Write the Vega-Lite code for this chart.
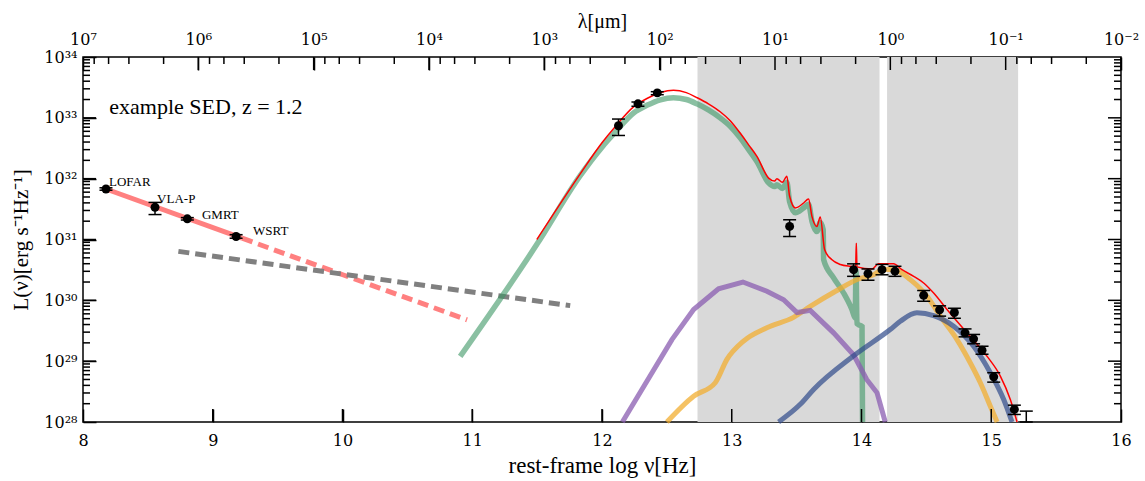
{
  "$schema": "https://vega.github.io/schema/vega-lite/v6.json",
  "width": 1038,
  "height": 365,
  "autosize": {"type": "none"},
  "padding": {"left": 83, "top": 57, "right": 24, "bottom": 59},
  "background": "white",
  "config": {
    "view": {"stroke": "black", "strokeWidth": 1.5},
    "font": "Liberation Serif",
    "axis": {
      "domain": false,
      "grid": false,
      "labelFont": "DejaVu Serif",
      "labelFontSize": 16,
      "labelColor": "black",
      "tickColor": "black",
      "tickWidth": 1.5,
      "titleFont": "Liberation Serif",
      "titleFontSize": 21,
      "titleFontWeight": "normal",
      "titleColor": "black",
      "labelOverlap": false,
      "labelFlush": false,
      "labelBound": false
    }
  },
  "datasets": {
    "bands": [{"a": 12.736, "b": 14.139}, {"a": 14.197, "b": 15.207}],
    "points": [
      {"nu": 8.177, "L": 6.76e31, "lo": 6.46e31, "hi": 7.08e31},
      {"nu": 8.555, "L": 3.39e31, "lo": 2.57e31, "hi": 4.07e31},
      {"nu": 8.804, "L": 2.19e31, "lo": 2.09e31, "hi": 2.29e31},
      {"nu": 9.18, "L": 1.12e31, "lo": 1.05e31, "hi": 1.2e31},
      {"nu": 12.127, "L": 7.41e32, "lo": 5.13e32, "hi": 9.55e32},
      {"nu": 12.277, "L": 1.7e33, "lo": 1.55e33, "hi": 1.82e33},
      {"nu": 12.426, "L": 2.57e33, "lo": 2.4e33, "hi": 2.69e33},
      {"nu": 13.446, "L": 1.64e31, "lo": 1.12e31, "hi": 2.11e31},
      {"nu": 13.939, "L": 3.19e30, "lo": 2.48e30, "hi": 3.98e30},
      {"nu": 14.05, "L": 2.75e30, "lo": 2.14e30, "hi": 3.28e30},
      {"nu": 14.158, "L": 3.19e30, "lo": 2.63e30, "hi": 3.89e30},
      {"nu": 14.258, "L": 3.02e30, "lo": 2.48e30, "hi": 3.63e30},
      {"nu": 14.479, "L": 1.21e30, "lo": 9.66e29, "hi": 1.45e30},
      {"nu": 14.602, "L": 6.97e29, "lo": 5.5e29, "hi": 8.13e29},
      {"nu": 14.716, "L": 6.31e29, "lo": 5.07e29, "hi": 7.41e29},
      {"nu": 14.798, "L": 2.92e29, "lo": 2.51e29, "hi": 3.39e29},
      {"nu": 14.864, "L": 2.33e29, "lo": 1.93e29, "hi": 2.75e29},
      {"nu": 14.929, "L": 1.51e29, "lo": 1.3e29, "hi": 1.76e29},
      {"nu": 15.019, "L": 5.53e28, "lo": 4.52e28, "hi": 6.46e28},
      {"nu": 15.178, "L": 1.61e28, "lo": 1.33e28, "hi": 1.89e28},
      {"nu": 15.27, "L": null, "lo": 1.0e28, "hi": 1.51e28}
    ],
    "curves": [
      {"s": "radio", "nu": 8.177, "L": 6.76e31},
      {"s": "radio", "nu": 9.226, "L": 1.05e31},
      {"s": "radioext", "nu": 9.226, "L": 1.05e31},
      {"s": "radioext", "nu": 10.96, "L": 4.79e29},
      {"s": "agn", "nu": 8.735, "L": 6.38e30},
      {"s": "agn", "nu": 11.755, "L": 8.18e29},
      {"s": "dust", "nu": 10.907, "L": 1.2e29},
      {"s": "dust", "nu": 11.498, "L": 8.32e30},
      {"s": "dust", "nu": 11.832, "L": 1.12e32},
      {"s": "dust", "nu": 12.0, "L": 3.3e32},
      {"s": "dust", "nu": 12.1, "L": 5.75e32},
      {"s": "dust", "nu": 12.243, "L": 1.2e33},
      {"s": "dust", "nu": 12.35, "L": 1.62e33},
      {"s": "dust", "nu": 12.45, "L": 1.98e33},
      {"s": "dust", "nu": 12.55, "L": 2.14e33},
      {"s": "dust", "nu": 12.65, "L": 2.0e33},
      {"s": "dust", "nu": 12.731, "L": 1.7e33},
      {"s": "dust", "nu": 12.82, "L": 1.35e33},
      {"s": "dust", "nu": 12.911, "L": 1.0e33},
      {"s": "dust", "nu": 12.99, "L": 7.2e32},
      {"s": "dust", "nu": 13.065, "L": 4.7e32},
      {"s": "dust", "nu": 13.13, "L": 3.0e32},
      {"s": "dust", "nu": 13.194, "L": 1.91e32},
      {"s": "dust", "nu": 13.284, "L": 8.51e31},
      {"s": "dust", "nu": 13.33, "L": 7.41e31},
      {"s": "dust", "nu": 13.348, "L": 7.94e31},
      {"s": "dust", "nu": 13.39, "L": 6.92e31},
      {"s": "dust", "nu": 13.425, "L": 8.71e31},
      {"s": "dust", "nu": 13.446, "L": 4.17e31},
      {"s": "dust", "nu": 13.49, "L": 2.75e31},
      {"s": "dust", "nu": 13.554, "L": 3.31e31},
      {"s": "dust", "nu": 13.592, "L": 3.8e31},
      {"s": "dust", "nu": 13.618, "L": 2.0e31},
      {"s": "dust", "nu": 13.656, "L": 1.35e31},
      {"s": "dust", "nu": 13.682, "L": 1.91e31},
      {"s": "dust", "nu": 13.705, "L": 1.45e31},
      {"s": "dust", "nu": 13.708, "L": 4.68e30},
      {"s": "dust", "nu": 13.785, "L": 2.34e30},
      {"s": "dust", "nu": 13.862, "L": 1.32e30},
      {"s": "dust", "nu": 13.926, "L": 7.08e29},
      {"s": "dust", "nu": 13.951, "L": 5.13e29},
      {"s": "dust", "nu": 13.958, "L": 3.16e30},
      {"s": "dust", "nu": 13.965, "L": 4.17e29},
      {"s": "dust", "nu": 13.977, "L": 3.98e29},
      {"s": "dust", "nu": 14.004, "L": 3.72e29},
      {"s": "dust", "nu": 14.008, "L": 1.0e28},
      {"s": "purple", "nu": 12.157, "L": 1.0e28},
      {"s": "purple", "nu": 12.539, "L": 2.26e29},
      {"s": "purple", "nu": 12.706, "L": 7.08e29},
      {"s": "purple", "nu": 12.898, "L": 1.55e30},
      {"s": "purple", "nu": 13.086, "L": 2.0e30},
      {"s": "purple", "nu": 13.271, "L": 1.41e30},
      {"s": "purple", "nu": 13.4, "L": 1.02e30},
      {"s": "purple", "nu": 13.503, "L": 6.31e29},
      {"s": "purple", "nu": 13.605, "L": 6.84e29},
      {"s": "purple", "nu": 13.785, "L": 2.92e29},
      {"s": "purple", "nu": 13.94, "L": 1.26e29},
      {"s": "purple", "nu": 14.04, "L": 5.01e28},
      {"s": "purple", "nu": 14.12, "L": 3.02e28},
      {"s": "purple", "nu": 14.183, "L": 1.0e28},
      {"s": "orange", "nu": 12.5, "L": 1.0e28},
      {"s": "orange", "nu": 12.706, "L": 2.66e28},
      {"s": "orange", "nu": 12.873, "L": 4.42e28},
      {"s": "orange", "nu": 12.963, "L": 1.07e29},
      {"s": "orange", "nu": 13.091, "L": 2.14e29},
      {"s": "orange", "nu": 13.271, "L": 3.55e29},
      {"s": "orange", "nu": 13.476, "L": 5.25e29},
      {"s": "orange", "nu": 13.605, "L": 7.94e29},
      {"s": "orange", "nu": 13.8, "L": 1.41e30},
      {"s": "orange", "nu": 13.977, "L": 2.24e30},
      {"s": "orange", "nu": 14.093, "L": 2.63e30},
      {"s": "orange", "nu": 14.17, "L": 3.24e30},
      {"s": "orange", "nu": 14.26, "L": 3.16e30},
      {"s": "orange", "nu": 14.376, "L": 2.19e30},
      {"s": "orange", "nu": 14.505, "L": 1.17e30},
      {"s": "orange", "nu": 14.607, "L": 5.5e29},
      {"s": "orange", "nu": 14.736, "L": 2.26e29},
      {"s": "orange", "nu": 14.839, "L": 9.33e28},
      {"s": "orange", "nu": 14.916, "L": 4.42e28},
      {"s": "orange", "nu": 14.993, "L": 1.82e28},
      {"s": "orange", "nu": 15.045, "L": 1.0e28},
      {"s": "blue", "nu": 13.361, "L": 1.0e28},
      {"s": "blue", "nu": 13.528, "L": 1.95e28},
      {"s": "blue", "nu": 13.631, "L": 3.43e28},
      {"s": "blue", "nu": 13.94, "L": 1.23e29},
      {"s": "blue", "nu": 14.221, "L": 3.31e29},
      {"s": "blue", "nu": 14.299, "L": 4.52e29},
      {"s": "blue", "nu": 14.427, "L": 6.24e29},
      {"s": "blue", "nu": 14.556, "L": 5.62e29},
      {"s": "blue", "nu": 14.71, "L": 3.76e29},
      {"s": "blue", "nu": 14.864, "L": 1.76e29},
      {"s": "blue", "nu": 14.993, "L": 6.46e28},
      {"s": "blue", "nu": 15.096, "L": 2.34e28},
      {"s": "blue", "nu": 15.16, "L": 1.0e28},
      {"s": "total", "nu": 11.498, "L": 1.0e31},
      {"s": "total", "nu": 11.832, "L": 1.2e32},
      {"s": "total", "nu": 12.0, "L": 3.9e32},
      {"s": "total", "nu": 12.1, "L": 7.08e32},
      {"s": "total", "nu": 12.243, "L": 1.51e33},
      {"s": "total", "nu": 12.35, "L": 2.1e33},
      {"s": "total", "nu": 12.45, "L": 2.6e33},
      {"s": "total", "nu": 12.551, "L": 2.85e33},
      {"s": "total", "nu": 12.65, "L": 2.6e33},
      {"s": "total", "nu": 12.731, "L": 2.15e33},
      {"s": "total", "nu": 12.82, "L": 1.7e33},
      {"s": "total", "nu": 12.911, "L": 1.26e33},
      {"s": "total", "nu": 12.99, "L": 8.9e32},
      {"s": "total", "nu": 13.065, "L": 5.62e32},
      {"s": "total", "nu": 13.13, "L": 3.6e32},
      {"s": "total", "nu": 13.194, "L": 2.32e32},
      {"s": "total", "nu": 13.284, "L": 1.02e32},
      {"s": "total", "nu": 13.33, "L": 9.12e31},
      {"s": "total", "nu": 13.348, "L": 1.0e32},
      {"s": "total", "nu": 13.39, "L": 8.71e31},
      {"s": "total", "nu": 13.425, "L": 1.1e32},
      {"s": "total", "nu": 13.446, "L": 5.13e31},
      {"s": "total", "nu": 13.49, "L": 3.31e31},
      {"s": "total", "nu": 13.554, "L": 3.98e31},
      {"s": "total", "nu": 13.592, "L": 4.62e31},
      {"s": "total", "nu": 13.618, "L": 2.4e31},
      {"s": "total", "nu": 13.656, "L": 1.64e31},
      {"s": "total", "nu": 13.682, "L": 2.34e31},
      {"s": "total", "nu": 13.716, "L": 6.76e30},
      {"s": "total", "nu": 13.77, "L": 4.68e30},
      {"s": "total", "nu": 13.837, "L": 3.89e30},
      {"s": "total", "nu": 13.914, "L": 3.63e30},
      {"s": "total", "nu": 13.955, "L": 3.55e30},
      {"s": "total", "nu": 13.96, "L": 8.71e30},
      {"s": "total", "nu": 13.965, "L": 3.55e30},
      {"s": "total", "nu": 14.08, "L": 3.27e30},
      {"s": "total", "nu": 14.131, "L": 3.98e30},
      {"s": "total", "nu": 14.247, "L": 3.98e30},
      {"s": "total", "nu": 14.312, "L": 3.19e30},
      {"s": "total", "nu": 14.402, "L": 2.48e30},
      {"s": "total", "nu": 14.479, "L": 1.93e30},
      {"s": "total", "nu": 14.556, "L": 1.32e30},
      {"s": "total", "nu": 14.659, "L": 7.08e29},
      {"s": "total", "nu": 14.813, "L": 2.92e29},
      {"s": "total", "nu": 14.968, "L": 1.2e29},
      {"s": "total", "nu": 15.07, "L": 5.69e28},
      {"s": "total", "nu": 15.147, "L": 2.34e28},
      {"s": "total", "nu": 15.199, "L": 1.0e28}
    ],
    "radiolabels": [
      {"nu": 8.2, "L": 8.91e31, "t": "LOFAR"},
      {"nu": 8.571, "L": 4.68e31, "t": "VLA-P"},
      {"nu": 8.917, "L": 2.57e31, "t": "GMRT"},
      {"nu": 9.311, "L": 1.38e31, "t": "WSRT"}
    ],
    "note": [{"nu": 8.203, "L": 1.49e33, "t": "example SED, z = 1.2"}],
    "nuaxis": [{"nu": 8, "L": 1e30}, {"nu": 16, "L": 1e30}],
    "xmajor": [{"nu": 9}, {"nu": 10}, {"nu": 11}, {"nu": 12}, {"nu": 13}, {"nu": 14}, {"nu": 15}],
    "ymajor": [{"L": 1e29}, {"L": 1e30}, {"L": 1e31}, {"L": 1e32}, {"L": 1e33}],
    "yminor": [
      {"L": 2e28}, {"L": 3e28}, {"L": 4e28}, {"L": 5e28}, {"L": 6e28}, {"L": 7e28}, {"L": 8e28}, {"L": 9e28},
      {"L": 2e29}, {"L": 3e29}, {"L": 4e29}, {"L": 5e29}, {"L": 6e29}, {"L": 7e29}, {"L": 8e29}, {"L": 9e29},
      {"L": 2e30}, {"L": 3e30}, {"L": 4e30}, {"L": 5e30}, {"L": 6e30}, {"L": 7e30}, {"L": 8e30}, {"L": 9e30},
      {"L": 2e31}, {"L": 3e31}, {"L": 4e31}, {"L": 5e31}, {"L": 6e31}, {"L": 7e31}, {"L": 8e31}, {"L": 9e31},
      {"L": 2e32}, {"L": 3e32}, {"L": 4e32}, {"L": 5e32}, {"L": 6e32}, {"L": 7e32}, {"L": 8e32}, {"L": 9e32},
      {"L": 2e33}, {"L": 3e33}, {"L": 4e33}, {"L": 5e33}, {"L": 6e33}, {"L": 7e33}, {"L": 8e33}, {"L": 9e33}
    ],
    "lamticks": [
      {"lam": 1e7, "kind": "major"}, {"lam": 8e6, "kind": "minor"}, {"lam": 6e6, "kind": "minor"}, {"lam": 4e6, "kind": "minor"}, {"lam": 2e6, "kind": "minor"},
      {"lam": 1e6, "kind": "major"}, {"lam": 8e5, "kind": "minor"}, {"lam": 6e5, "kind": "minor"}, {"lam": 4e5, "kind": "minor"}, {"lam": 2e5, "kind": "minor"},
      {"lam": 1e5, "kind": "major"}, {"lam": 8e4, "kind": "minor"}, {"lam": 6e4, "kind": "minor"}, {"lam": 4e4, "kind": "minor"}, {"lam": 2e4, "kind": "minor"},
      {"lam": 1e4, "kind": "major"}, {"lam": 8000, "kind": "minor"}, {"lam": 6000, "kind": "minor"}, {"lam": 4000, "kind": "minor"}, {"lam": 2000, "kind": "minor"},
      {"lam": 1000, "kind": "major"}, {"lam": 800, "kind": "minor"}, {"lam": 600, "kind": "minor"}, {"lam": 400, "kind": "minor"}, {"lam": 200, "kind": "minor"},
      {"lam": 100, "kind": "major"}, {"lam": 80, "kind": "minor"}, {"lam": 60, "kind": "minor"}, {"lam": 40, "kind": "minor"}, {"lam": 20, "kind": "minor"},
      {"lam": 10, "kind": "major"}, {"lam": 8, "kind": "minor"}, {"lam": 6, "kind": "minor"}, {"lam": 4, "kind": "minor"}, {"lam": 2, "kind": "minor"},
      {"lam": 1, "kind": "major"}, {"lam": 0.8, "kind": "minor"}, {"lam": 0.6, "kind": "minor"}, {"lam": 0.4, "kind": "minor"}, {"lam": 0.2, "kind": "minor"},
      {"lam": 0.1, "kind": "major"}, {"lam": 0.08, "kind": "minor"}, {"lam": 0.06, "kind": "minor"}, {"lam": 0.04, "kind": "minor"}, {"lam": 0.02, "kind": "minor"},
      {"lam": 0.01, "kind": "major"}
    ]
  },
  "layer": [
    {
      "layer": [
        {
          "data": {"name": "bands"},
          "mark": {"type": "rect", "color": "#d9d9d9"},
          "encoding": {
            "x": {"field": "a", "type": "quantitative", "scale": {"domain": [8, 16], "nice": false, "zero": false}, "axis": null},
            "x2": {"field": "b"}
          }
        },
        {
          "data": {"name": "curves"},
          "transform": [{"filter": "datum.s == 'radio'"}],
          "mark": {"type": "line", "color": "#ff8080", "strokeWidth": 5, "strokeCap": "butt"},
          "encoding": {
            "x": {"field": "nu", "type": "quantitative", "scale": {"domain": [8, 16], "nice": false, "zero": false}, "axis": null},
            "y": {"field": "L", "type": "quantitative", "scale": {"type": "log", "domain": [1e28, 1e34], "nice": false}, "axis": null}
          }
        },
        {
          "data": {"name": "curves"},
          "transform": [{"filter": "datum.s == 'radioext'"}],
          "mark": {"type": "line", "color": "#ff8080", "strokeWidth": 5, "strokeDash": [11, 6], "strokeCap": "butt"},
          "encoding": {
            "x": {"field": "nu", "type": "quantitative", "scale": {"domain": [8, 16], "nice": false, "zero": false}, "axis": null},
            "y": {"field": "L", "type": "quantitative", "scale": {"type": "log", "domain": [1e28, 1e34], "nice": false}, "axis": null}
          }
        },
        {
          "data": {"name": "curves"},
          "transform": [{"filter": "datum.s == 'agn'"}],
          "mark": {"type": "line", "color": "#808080", "strokeWidth": 5, "strokeDash": [11, 6], "strokeCap": "butt"},
          "encoding": {
            "x": {"field": "nu", "type": "quantitative", "scale": {"domain": [8, 16], "nice": false, "zero": false}, "axis": null},
            "y": {"field": "L", "type": "quantitative", "scale": {"type": "log", "domain": [1e28, 1e34], "nice": false}, "axis": null}
          }
        },
        {
          "data": {"name": "curves"},
          "transform": [{"filter": "datum.s == 'dust'"}],
          "mark": {"type": "line", "color": "#3c9664", "opacity": 0.6, "strokeWidth": 5.5, "strokeCap": "butt", "interpolate": "monotone"},
          "encoding": {
            "x": {"field": "nu", "type": "quantitative", "scale": {"domain": [8, 16], "nice": false, "zero": false}, "axis": null},
            "y": {"field": "L", "type": "quantitative", "scale": {"type": "log", "domain": [1e28, 1e34], "nice": false}, "axis": null}
          }
        },
        {
          "data": {"name": "curves"},
          "transform": [{"filter": "datum.s == 'orange'"}],
          "mark": {"type": "line", "color": "#f2ae30", "opacity": 0.75, "strokeWidth": 5, "strokeCap": "butt", "interpolate": "monotone"},
          "encoding": {
            "x": {"field": "nu", "type": "quantitative", "scale": {"domain": [8, 16], "nice": false, "zero": false}, "axis": null},
            "y": {"field": "L", "type": "quantitative", "scale": {"type": "log", "domain": [1e28, 1e34], "nice": false}, "axis": null}
          }
        },
        {
          "data": {"name": "curves"},
          "transform": [{"filter": "datum.s == 'purple'"}],
          "mark": {"type": "line", "color": "#8a5cb0", "opacity": 0.75, "strokeWidth": 5, "strokeCap": "butt"},
          "encoding": {
            "x": {"field": "nu", "type": "quantitative", "scale": {"domain": [8, 16], "nice": false, "zero": false}, "axis": null},
            "y": {"field": "L", "type": "quantitative", "scale": {"type": "log", "domain": [1e28, 1e34], "nice": false}, "axis": null}
          }
        },
        {
          "data": {"name": "curves"},
          "transform": [{"filter": "datum.s == 'blue'"}],
          "mark": {"type": "line", "color": "#2f4a8a", "opacity": 0.7, "strokeWidth": 5, "strokeCap": "butt", "interpolate": "monotone"},
          "encoding": {
            "x": {"field": "nu", "type": "quantitative", "scale": {"domain": [8, 16], "nice": false, "zero": false}, "axis": null},
            "y": {"field": "L", "type": "quantitative", "scale": {"type": "log", "domain": [1e28, 1e34], "nice": false}, "axis": null}
          }
        },
        {
          "data": {"name": "curves"},
          "transform": [{"filter": "datum.s == 'total'"}],
          "mark": {"type": "line", "color": "#ff0000", "strokeWidth": 1.5, "interpolate": "monotone"},
          "encoding": {
            "x": {"field": "nu", "type": "quantitative", "scale": {"domain": [8, 16], "nice": false, "zero": false}, "axis": null},
            "y": {"field": "L", "type": "quantitative", "scale": {"type": "log", "domain": [1e28, 1e34], "nice": false}, "axis": null}
          }
        },
        {
          "data": {"name": "points"},
          "mark": {"type": "rule", "color": "black", "strokeWidth": 1.5},
          "encoding": {
            "x": {"field": "nu", "type": "quantitative", "scale": {"domain": [8, 16], "nice": false, "zero": false}, "axis": null},
            "y": {"field": "lo", "type": "quantitative", "scale": {"type": "log", "domain": [1e28, 1e34], "nice": false}, "axis": null},
            "y2": {"field": "hi"}
          }
        },
        {
          "data": {"name": "points"},
          "mark": {"type": "point", "shape": "stroke", "size": 169, "filled": false, "color": "black", "strokeWidth": 1.5, "opacity": 1},
          "encoding": {
            "x": {"field": "nu", "type": "quantitative", "scale": {"domain": [8, 16], "nice": false, "zero": false}, "axis": null},
            "y": {"field": "lo", "type": "quantitative", "scale": {"type": "log", "domain": [1e28, 1e34], "nice": false}, "axis": null}
          }
        },
        {
          "data": {"name": "points"},
          "mark": {"type": "point", "shape": "stroke", "size": 169, "filled": false, "color": "black", "strokeWidth": 1.5, "opacity": 1},
          "encoding": {
            "x": {"field": "nu", "type": "quantitative", "scale": {"domain": [8, 16], "nice": false, "zero": false}, "axis": null},
            "y": {"field": "hi", "type": "quantitative", "scale": {"type": "log", "domain": [1e28, 1e34], "nice": false}, "axis": null}
          }
        },
        {
          "data": {"name": "points"},
          "mark": {"type": "circle", "color": "black", "size": 80, "opacity": 1},
          "encoding": {
            "x": {"field": "nu", "type": "quantitative", "scale": {"domain": [8, 16], "nice": false, "zero": false}, "axis": null},
            "y": {"field": "L", "type": "quantitative", "scale": {"type": "log", "domain": [1e28, 1e34], "nice": false}, "axis": null}
          }
        },
        {
          "data": {"name": "radiolabels"},
          "mark": {"type": "text", "align": "left", "baseline": "middle", "fontSize": 13, "font": "Liberation Serif", "color": "black"},
          "encoding": {
            "x": {"field": "nu", "type": "quantitative", "scale": {"domain": [8, 16], "nice": false, "zero": false}, "axis": null},
            "y": {"field": "L", "type": "quantitative", "scale": {"type": "log", "domain": [1e28, 1e34], "nice": false}, "axis": null},
            "text": {"field": "t"}
          }
        },
        {
          "data": {"name": "note"},
          "mark": {"type": "text", "align": "left", "baseline": "middle", "fontSize": 22, "font": "Liberation Serif", "color": "black"},
          "encoding": {
            "x": {"field": "nu", "type": "quantitative", "scale": {"domain": [8, 16], "nice": false, "zero": false}, "axis": null},
            "y": {"field": "L", "type": "quantitative", "scale": {"type": "log", "domain": [1e28, 1e34], "nice": false}, "axis": null},
            "text": {"field": "t"}
          }
        },
        {
          "data": {"name": "xmajor"},
          "mark": {"type": "tick", "orient": "vertical", "size": 26, "thickness": 1.5, "color": "black", "opacity": 1, "clip": true},
          "encoding": {
            "x": {"field": "nu", "type": "quantitative", "scale": {"domain": [8, 16], "nice": false, "zero": false}, "axis": null},
            "y": {"datum": 1e28, "type": "quantitative", "scale": {"type": "log", "domain": [1e28, 1e34], "nice": false}, "axis": null}
          }
        },
        {
          "data": {"name": "ymajor"},
          "mark": {"type": "tick", "orient": "horizontal", "size": 26, "thickness": 1.5, "color": "black", "opacity": 1, "clip": true},
          "encoding": {
            "x": {"datum": 8, "type": "quantitative", "scale": {"domain": [8, 16], "nice": false, "zero": false}, "axis": null},
            "y": {"field": "L", "type": "quantitative", "scale": {"type": "log", "domain": [1e28, 1e34], "nice": false}, "axis": null}
          }
        },
        {
          "data": {"name": "ymajor"},
          "mark": {"type": "tick", "orient": "horizontal", "size": 26, "thickness": 1.5, "color": "black", "opacity": 1, "clip": true},
          "encoding": {
            "x": {"datum": 16, "type": "quantitative", "scale": {"domain": [8, 16], "nice": false, "zero": false}, "axis": null},
            "y": {"field": "L", "type": "quantitative", "scale": {"type": "log", "domain": [1e28, 1e34], "nice": false}, "axis": null}
          }
        },
        {
          "data": {"name": "yminor"},
          "mark": {"type": "tick", "orient": "horizontal", "size": 14, "thickness": 1.5, "color": "black", "opacity": 1, "clip": true},
          "encoding": {
            "x": {"datum": 8, "type": "quantitative", "scale": {"domain": [8, 16], "nice": false, "zero": false}, "axis": null},
            "y": {"field": "L", "type": "quantitative", "scale": {"type": "log", "domain": [1e28, 1e34], "nice": false}, "axis": null}
          }
        },
        {
          "data": {"name": "yminor"},
          "mark": {"type": "tick", "orient": "horizontal", "size": 14, "thickness": 1.5, "color": "black", "opacity": 1, "clip": true},
          "encoding": {
            "x": {"datum": 16, "type": "quantitative", "scale": {"domain": [8, 16], "nice": false, "zero": false}, "axis": null},
            "y": {"field": "L", "type": "quantitative", "scale": {"type": "log", "domain": [1e28, 1e34], "nice": false}, "axis": null}
          }
        }
      ]
    },
    {
      "data": {"name": "nuaxis"},
      "mark": {"type": "point", "opacity": 0},
      "encoding": {
        "x": {"field": "nu", "type": "quantitative", "scale": {"domain": [8, 16], "nice": false, "zero": false},
          "axis": {"orient": "bottom", "title": "rest-frame log ν[Hz]", "values": [8, 9, 10, 11, 12, 13, 14, 15, 16], "format": "d",
            "tickSize": -13, "labelPadding": 23, "titlePadding": 6, "titleFontSize": 23}},
        "y": {"field": "L", "type": "quantitative", "scale": {"type": "log", "domain": [1e28, 1e34], "nice": false},
          "axis": {"orient": "left", "title": "L(ν)[erg s⁻¹Hz⁻¹]",
            "values": [1e28, 1e29, 1e30, 1e31, 1e32, 1e33, 1e34],
            "labelExpr": "datum.value == 1e28 ? '10²⁸' : datum.value == 1e29 ? '10²⁹' : datum.value == 1e30 ? '10³⁰' : datum.value == 1e31 ? '10³¹' : datum.value == 1e32 ? '10³²' : datum.value == 1e33 ? '10³³' : datum.value == 1e34 ? '10³⁴' : ''",
            "tickSize": -13, "labelPadding": 19, "titlePadding": 12}}
      }
    },
    {
      "data": {"name": "lamticks"},
      "mark": {"type": "tick", "orient": "vertical", "thickness": 1.5, "color": "black", "opacity": 1, "clip": true},
      "encoding": {
        "x": {"field": "lam", "type": "quantitative", "scale": {"type": "log", "domain": [0.01, 1e7], "reverse": true, "nice": false},
          "axis": {"orient": "top", "title": "λ[μm]",
            "values": [1e7, 1e6, 1e5, 1e4, 1000, 100, 10, 1, 0.1, 0.01],
            "labelExpr": "datum.value == 1e7 ? '10⁷' : datum.value == 1e6 ? '10⁶' : datum.value == 1e5 ? '10⁵' : datum.value == 1e4 ? '10⁴' : datum.value == 1000 ? '10³' : datum.value == 100 ? '10²' : datum.value == 10 ? '10¹' : datum.value == 1 ? '10⁰' : datum.value == 0.1 ? '10⁻¹' : datum.value == 0.01 ? '10⁻²' : ''",
            "tickSize": -13, "labelPadding": 23, "titlePadding": 0, "titleFontSize": 20}},
        "y": {"datum": 1e34, "type": "quantitative", "scale": {"type": "log", "domain": [1e28, 1e34], "nice": false}, "axis": null},
        "size": {"field": "kind", "type": "ordinal", "scale": {"domain": ["major", "minor"], "range": [26, 14]}, "legend": null}
      }
    }
  ],
  "resolve": {"scale": {"x": "independent"}, "axis": {"x": "independent", "y": "independent"}}
}
